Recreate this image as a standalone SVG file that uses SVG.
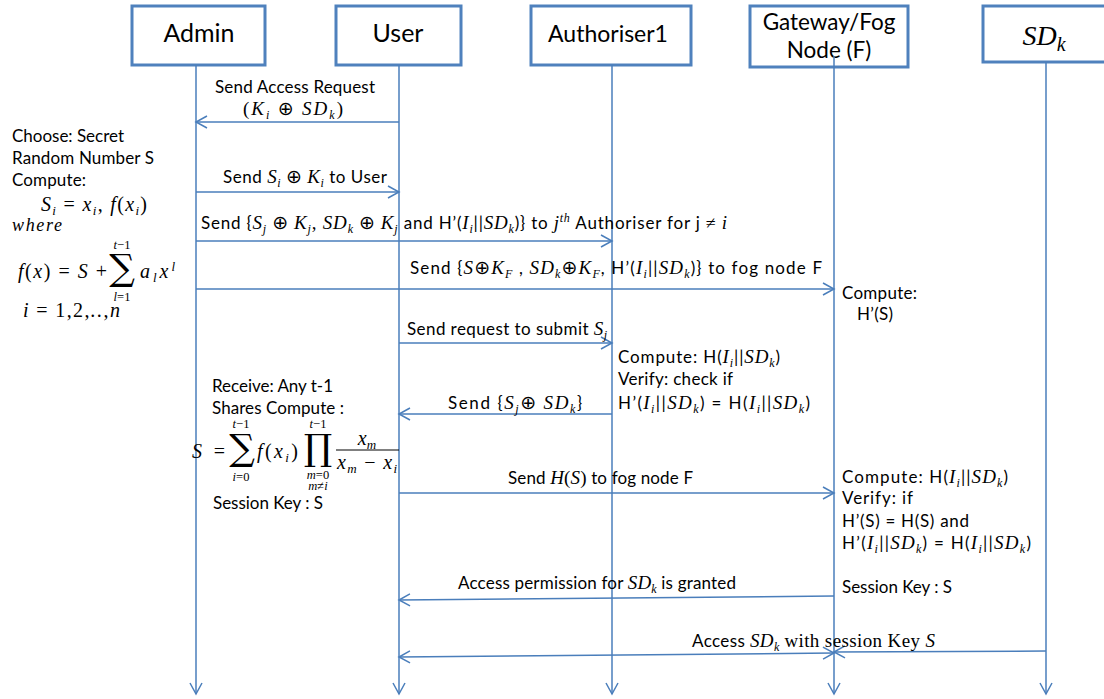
<svg xmlns="http://www.w3.org/2000/svg" width="1104" height="699" viewBox="0 0 1104 699">
<style>
.box{fill:#fff;stroke:#4f81bd;stroke-width:3}
.ln{stroke:#4a7ebb;stroke-width:1.5;fill:none}
.hd{font-family:Lato,"Liberation Sans",sans-serif;font-size:25px;fill:#000;text-anchor:middle}
.t{font-family:Lato,"Liberation Sans",sans-serif;font-size:17px;fill:#000}
.m{font-family:"Liberation Serif","DejaVu Serif",serif;font-style:italic}
.r{font-family:"Liberation Serif","DejaVu Serif",serif;font-style:normal}
.op{font-family:"DejaVu Sans",sans-serif;font-style:normal;font-size:19px}
.sb{font-size:12px;baseline-shift:-4px}
.sp{font-size:12px;baseline-shift:7px}
.big{font-family:"DejaVu Serif",serif;font-style:normal;font-size:36px}
.lim{font-family:"Liberation Serif",serif;font-style:italic;font-size:12.5px;text-anchor:middle}
</style>
<defs>
<marker id="a" markerUnits="userSpaceOnUse" markerWidth="14" markerHeight="16" viewBox="0 0 14 16" refX="12" refY="8" orient="auto-start-reverse">
<path d="M1,2 L12,8 L1,14" fill="none" stroke="#4a7ebb" stroke-width="1.5"/>
</marker>
</defs>

<g id="admin"><rect class="box" x="132" y="6" width="133" height="59"/><text class="hd" x="199" y="42">Admin</text></g>
<g id="user"><rect class="box" x="336" y="6" width="125" height="59"/><text class="hd" x="398" y="42">User</text></g>
<g id="authoriser1"><rect class="box" x="531" y="6" width="160" height="59"/><text class="hd" x="608" y="42" style="font-size:23px">Authoriser1</text></g>
<g id="gateway"><rect class="box" x="750" y="6" width="158" height="61"/><text class="hd" x="829" y="30" style="font-size:22.5px">Gateway/Fog</text><text class="hd" x="829" y="58" style="font-size:22.5px">Node (F)</text></g>
<g id="sdk"><rect class="box" x="983" y="6" width="128" height="56"/><text class="hd m" x="1044" y="45" style="font-size:28px">SD<tspan style="font-size:20px;baseline-shift:-6px">k</tspan></text></g>

<g id="connectors">
<line class="ln" x1="196" y1="65" x2="196" y2="694" marker-end="url(#a)"/>
<line class="ln" x1="399" y1="65" x2="399" y2="694" marker-end="url(#a)"/>
<line class="ln" x1="612" y1="65" x2="612" y2="694" marker-end="url(#a)"/>
<line class="ln" x1="834" y1="56" x2="834" y2="694" marker-end="url(#a)"/>
<line class="ln" x1="1046" y1="62" x2="1046" y2="694" marker-end="url(#a)"/>

<line class="ln" x1="399" y1="122" x2="196" y2="122" marker-end="url(#a)"/>
<line class="ln" x1="196" y1="192" x2="399" y2="192" marker-end="url(#a)"/>
<line class="ln" x1="196" y1="241" x2="612" y2="241" marker-end="url(#a)"/>
<line class="ln" x1="196" y1="289" x2="834" y2="289" marker-end="url(#a)"/>
<line class="ln" x1="399" y1="343" x2="612" y2="343" marker-end="url(#a)"/>
<line class="ln" x1="612" y1="414" x2="399" y2="414" marker-end="url(#a)"/>
<line class="ln" x1="399" y1="493" x2="834" y2="493" marker-end="url(#a)"/>
<line class="ln" x1="834" y1="596" x2="399" y2="600" marker-end="url(#a)"/>
<line class="ln" x1="399" y1="657" x2="834" y2="653" marker-start="url(#a)" marker-end="url(#a)"/>
<line class="ln" x1="1046" y1="651" x2="834" y2="652" marker-end="url(#a)"/>
</g>

<g id="labels">
<text class="t" x="215" y="93" textLength="160">Send Access Request</text>
<text class="t" x="243" y="115" textLength="100"><tspan class="r" style="font-size:19px">(</tspan><tspan class="m" style="font-size:19px">K<tspan class="sb">i</tspan></tspan> <tspan class="op">⊕</tspan> <tspan class="m" style="font-size:19px">SD<tspan class="sb">k</tspan></tspan><tspan class="r" style="font-size:19px">)</tspan></text>

<text class="t" x="223" y="183" textLength="164">Send <tspan class="m" style="font-size:19px">S<tspan class="sb">i</tspan></tspan> <tspan class="op">⊕</tspan> <tspan class="m" style="font-size:19px">K<tspan class="sb">i</tspan></tspan> to User</text>

<text class="t" x="201" y="229" textLength="526">Send {<tspan class="m" style="font-size:19px">S<tspan class="sb">j</tspan></tspan> <tspan class="op">⊕</tspan> <tspan class="m" style="font-size:19px">K<tspan class="sb">j</tspan></tspan><tspan class="r" style="font-size:19px">, </tspan><tspan class="m" style="font-size:19px">SD<tspan class="sb">k</tspan></tspan> <tspan class="op">⊕</tspan> <tspan class="m" style="font-size:19px">K<tspan class="sb">j</tspan></tspan> and H’(<tspan class="m" style="font-size:19px">I<tspan class="sb">i</tspan></tspan>||<tspan class="m" style="font-size:19px">SD<tspan class="sb">k</tspan></tspan>)} to <tspan class="m" style="font-size:19px">j<tspan class="sp">th</tspan></tspan> Authoriser for j <tspan class="r" style="font-size:18px">≠</tspan> <tspan class="m" style="font-size:19px">i</tspan></text>

<text class="t" x="410" y="274" textLength="412">Send {<tspan class="m" style="font-size:19px">S</tspan><tspan class="op">⊕</tspan><tspan class="m" style="font-size:19px">K<tspan class="sb">F</tspan></tspan> , <tspan class="m" style="font-size:19px">SD<tspan class="sb">k</tspan></tspan><tspan class="op">⊕</tspan><tspan class="m" style="font-size:19px">K<tspan class="sb">F</tspan></tspan>,   H’(<tspan class="m" style="font-size:19px">I<tspan class="sb">i</tspan></tspan>||<tspan class="m" style="font-size:19px">SD<tspan class="sb">k</tspan></tspan>)} to fog node F</text>

<text class="t" x="407" y="335" textLength="200">Send request to submit <tspan class="m" style="font-size:19px">S<tspan class="sb">j</tspan></tspan></text>

<text class="t" x="448" y="409" textLength="134">Send {<tspan class="m" style="font-size:19px">S<tspan class="sb">j</tspan></tspan><tspan class="op">⊕</tspan> <tspan class="m" style="font-size:19px">SD<tspan class="sb">k</tspan></tspan>}</text>

<text class="t" x="508" y="484" textLength="185">Send <tspan class="m" style="font-size:19px">H</tspan><tspan class="r" style="font-size:19px">(</tspan><tspan class="m" style="font-size:19px">S</tspan><tspan class="r" style="font-size:19px">)</tspan> to fog node F</text>

<text class="t" x="458" y="589" textLength="278">Access permission for <tspan class="m" style="font-size:19px">SD<tspan class="sb">k</tspan></tspan> is granted</text>

<text class="t" x="692" y="647" textLength="243">Access  <tspan class="m" style="font-size:19px">SD<tspan class="sb">k</tspan></tspan> <tspan class="r" style="font-size:19px">with session Key </tspan><tspan class="m" style="font-size:19px">S</tspan></text>
</g>

<g id="admin-note">
<text class="t" x="12" y="142" textLength="112">Choose: Secret</text>
<text class="t" x="12" y="164" textLength="142">Random Number S</text>
<text class="t" x="12" y="186" textLength="74">Compute:</text>
<text class="m" x="41" y="211" style="font-size:20px" textLength="106">S<tspan class="sb" style="font-size:13px">i</tspan><tspan class="r"> = </tspan>x<tspan class="sb" style="font-size:13px">i</tspan><tspan class="r">, </tspan>f<tspan class="r">(</tspan>x<tspan class="sb" style="font-size:13px">i</tspan><tspan class="r">)</tspan></text>
<text class="m" x="12" y="231" style="font-size:18px" textLength="50">where</text>
<text class="m" x="18" y="278" style="font-size:20px" textLength="89">f<tspan class="r">(</tspan>x<tspan class="r">) = </tspan>S<tspan class="r"> +</tspan></text>
<text class="big" x="122" y="280" text-anchor="middle">∑</text>
<text class="lim" x="122" y="249">t<tspan class="r">−1</tspan></text>
<text class="lim" x="122" y="301">l<tspan class="r">=1</tspan></text>
<text class="m" x="140" y="278" style="font-size:20px" textLength="35">a<tspan class="sb" style="font-size:13px">l</tspan>x<tspan class="sp" style="font-size:13px">l</tspan></text>
<text class="m" x="23" y="317" style="font-size:20px" textLength="97">i<tspan class="r"> = 1,2,</tspan>..<tspan class="r">,</tspan>n</text>
</g>

<g id="user-note">
<text class="t" x="212" y="392" textLength="121">Receive: Any t-1</text>
<text class="t" x="212" y="414" textLength="132">Shares Compute :</text>
<text class="m" x="192" y="458" style="font-size:20px" textLength="33">S<tspan class="r"> =</tspan></text>
<text class="big" x="242" y="460" text-anchor="middle">∑</text>
<text class="lim" x="241" y="428">t<tspan class="r">−1</tspan></text>
<text class="lim" x="241" y="481">i<tspan class="r">=0</tspan></text>
<text class="m" x="257" y="458" style="font-size:20px" textLength="41">f<tspan class="r">(</tspan>x<tspan class="sb" style="font-size:13px">i</tspan><tspan class="r">)</tspan></text>
<text class="big" x="318" y="460" text-anchor="middle">∏</text>
<text class="lim" x="318" y="428">t<tspan class="r">−1</tspan></text>
<text class="lim" x="318" y="479">m<tspan class="r">=0</tspan></text>
<text class="lim" x="318" y="490">m<tspan class="r">≠</tspan>i</text>
<text class="m" x="367" y="445" style="font-size:20px" text-anchor="middle">x<tspan class="sb" style="font-size:13px">m</tspan></text>
<line x1="336" y1="450" x2="399" y2="450" stroke="#000" stroke-width="1"/>
<text class="m" x="337" y="469" style="font-size:20px" textLength="60">x<tspan class="sb" style="font-size:13px">m</tspan><tspan class="r"> − </tspan>x<tspan class="sb" style="font-size:13px">i</tspan></text>
<text class="t" x="213" y="509" textLength="110">Session Key : S</text>
</g>

<g id="authoriser-note">
<text class="t" x="618" y="363" textLength="162">Compute: H(<tspan class="m" style="font-size:19px">I<tspan class="sb">i</tspan></tspan>||<tspan class="m" style="font-size:19px">SD<tspan class="sb">k</tspan></tspan>)</text>
<text class="t" x="618" y="385" textLength="115">Verify:  check if</text>
<text class="t" x="618" y="409" textLength="192">H’(<tspan class="m" style="font-size:19px">I<tspan class="sb">i</tspan></tspan>||<tspan class="m" style="font-size:19px">SD<tspan class="sb">k</tspan></tspan>)  = H(<tspan class="m" style="font-size:19px">I<tspan class="sb">i</tspan></tspan>||<tspan class="m" style="font-size:19px">SD<tspan class="sb">k</tspan></tspan>)</text>
</g>

<g id="gateway-note">
<text class="t" x="842" y="299" textLength="75">Compute:</text>
<text class="t" x="857" y="320" textLength="36">H’(S)</text>
<text class="t" x="842" y="483" textLength="166">Compute:  H(<tspan class="m" style="font-size:19px">I<tspan class="sb">i</tspan></tspan>||<tspan class="m" style="font-size:19px">SD<tspan class="sb">k</tspan></tspan>)</text>
<text class="t" x="842" y="504" textLength="71">Verify:   if</text>
<text class="t" x="842" y="527" textLength="127">H’(S)  = H(S) and</text>
<text class="t" x="842" y="549" textLength="189">H’(<tspan class="m" style="font-size:19px">I<tspan class="sb">i</tspan></tspan>||<tspan class="m" style="font-size:19px">SD<tspan class="sb">k</tspan></tspan>) = H(<tspan class="m" style="font-size:19px">I<tspan class="sb">i</tspan></tspan>||<tspan class="m" style="font-size:19px">SD<tspan class="sb">k</tspan></tspan>)</text>
<text class="t" x="842" y="593" textLength="110">Session Key : S</text>
</g>
</svg>
